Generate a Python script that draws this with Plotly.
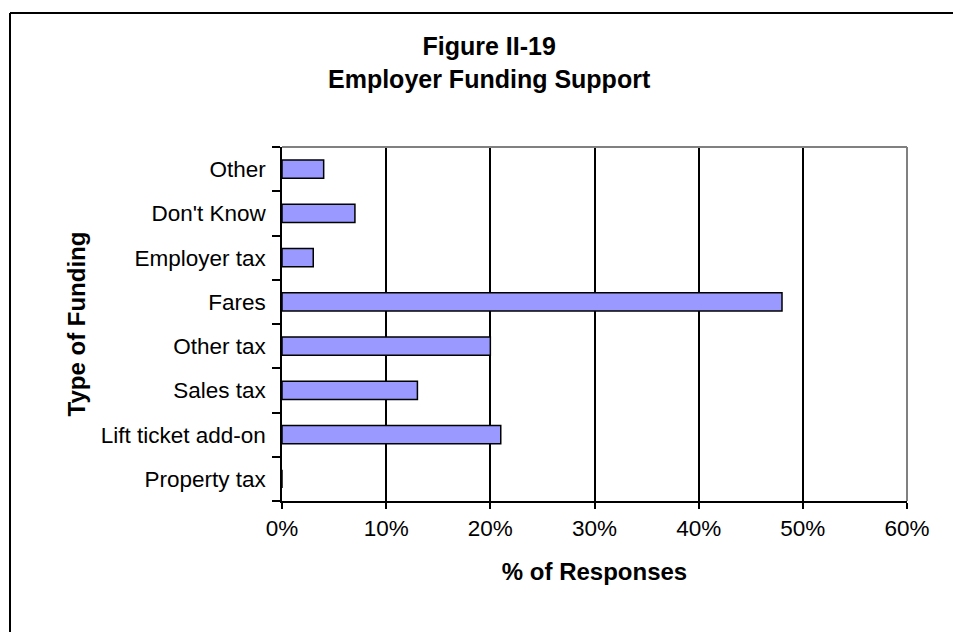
import plotly.graph_objects as go

# Funding categories, listed bottom to top as they appear on the axis
categories = [
    "Property tax",
    "Lift ticket add-on",
    "Sales tax",
    "Other tax",
    "Fares",
    "Employer tax",
    "Don't Know",
    "Other",
]
# Share of responses for each category
shares = [0.00, 0.21, 0.13, 0.20, 0.48, 0.03, 0.07, 0.04]

x_ticks = [0.0, 0.1, 0.2, 0.3, 0.4, 0.5, 0.6]

title_lines = ["Figure II-19", "Employer Funding Support"]
x_title = "% of Responses"
y_title = "Type of Funding"

W, H = 953, 632
L, R, T, B = 282, 46, 147, 131
PW, PH = W - L - R, H - T - B


def px_x(px):
    return (px - L) / PW


def px_y(py):
    return 1 - (py - T) / PH


FONT = "Liberation Sans, Arial, sans-serif"

fig = go.Figure(
    go.Bar(
        x=shares,
        y=categories,
        orientation="h",
        marker=dict(color="#9999FF", line=dict(color="#000000", width=1.5)),
        hoverinfo="x+y",
    )
)

fig.update_layout(
    width=W,
    height=H,
    margin=dict(l=L, r=R, t=T, b=B, pad=0),
    paper_bgcolor="white",
    plot_bgcolor="white",
    bargap=0.59,
    showlegend=False,
    font=dict(family=FONT, size=22, color="black"),
    xaxis=dict(
        range=[0, 0.6],
        tickvals=x_ticks,
        tickformat=".0%",
        showgrid=True,
        gridcolor="black",
        gridwidth=1.5,
        zeroline=False,
        showline=True,
        linecolor="black",
        linewidth=1.5,
        ticks="outside",
        ticklen=6,
        tickwidth=1.5,
        tickcolor="black",
        tickfont=dict(size=22.5),
        title=dict(text="<b>" + x_title + "</b>", font=dict(size=24), standoff=23),
        fixedrange=True,
    ),
    yaxis=dict(
        categoryorder="array",
        categoryarray=categories,
        showgrid=False,
        zeroline=False,
        showline=True,
        linecolor="black",
        linewidth=1.5,
        ticks="outside",
        tickson="boundaries",
        ticklen=8,
        tickwidth=1.5,
        tickcolor="black",
        tickfont=dict(size=22.5),
        ticklabelstandoff=10,
        title=dict(text="<b>" + y_title + "</b>", font=dict(size=24), standoff=8),
        fixedrange=True,
    ),
    annotations=[
        dict(
            text="<b>" + "<br>".join(title_lines) + "</b>",
            xref="paper",
            yref="paper",
            x=px_x(489),
            y=px_y(63),
            xanchor="center",
            yanchor="middle",
            showarrow=False,
            font=dict(family=FONT, size=25, color="black"),
        )
    ],
    shapes=[
        # grey plot-area border on the top and right
        dict(
            type="line", xref="paper", yref="paper",
            x0=0, y0=1, x1=1, y1=1,
            line=dict(color="#808080", width=2), layer="above",
        ),
        dict(
            type="line", xref="paper", yref="paper",
            x0=1, y0=0, x1=1, y1=1,
            line=dict(color="#808080", width=2), layer="above",
        ),
        # outer chart frame
        dict(
            type="line", xref="paper", yref="paper",
            x0=px_x(10), y0=px_y(13), x1=px_x(970), y1=px_y(13),
            line=dict(color="black", width=2),
        ),
        dict(
            type="line", xref="paper", yref="paper",
            x0=px_x(10), y0=px_y(13), x1=px_x(10), y1=px_y(650),
            line=dict(color="black", width=2),
        ),
    ],
)

fig.write_html("out.html", config={"displayModeBar": False})
